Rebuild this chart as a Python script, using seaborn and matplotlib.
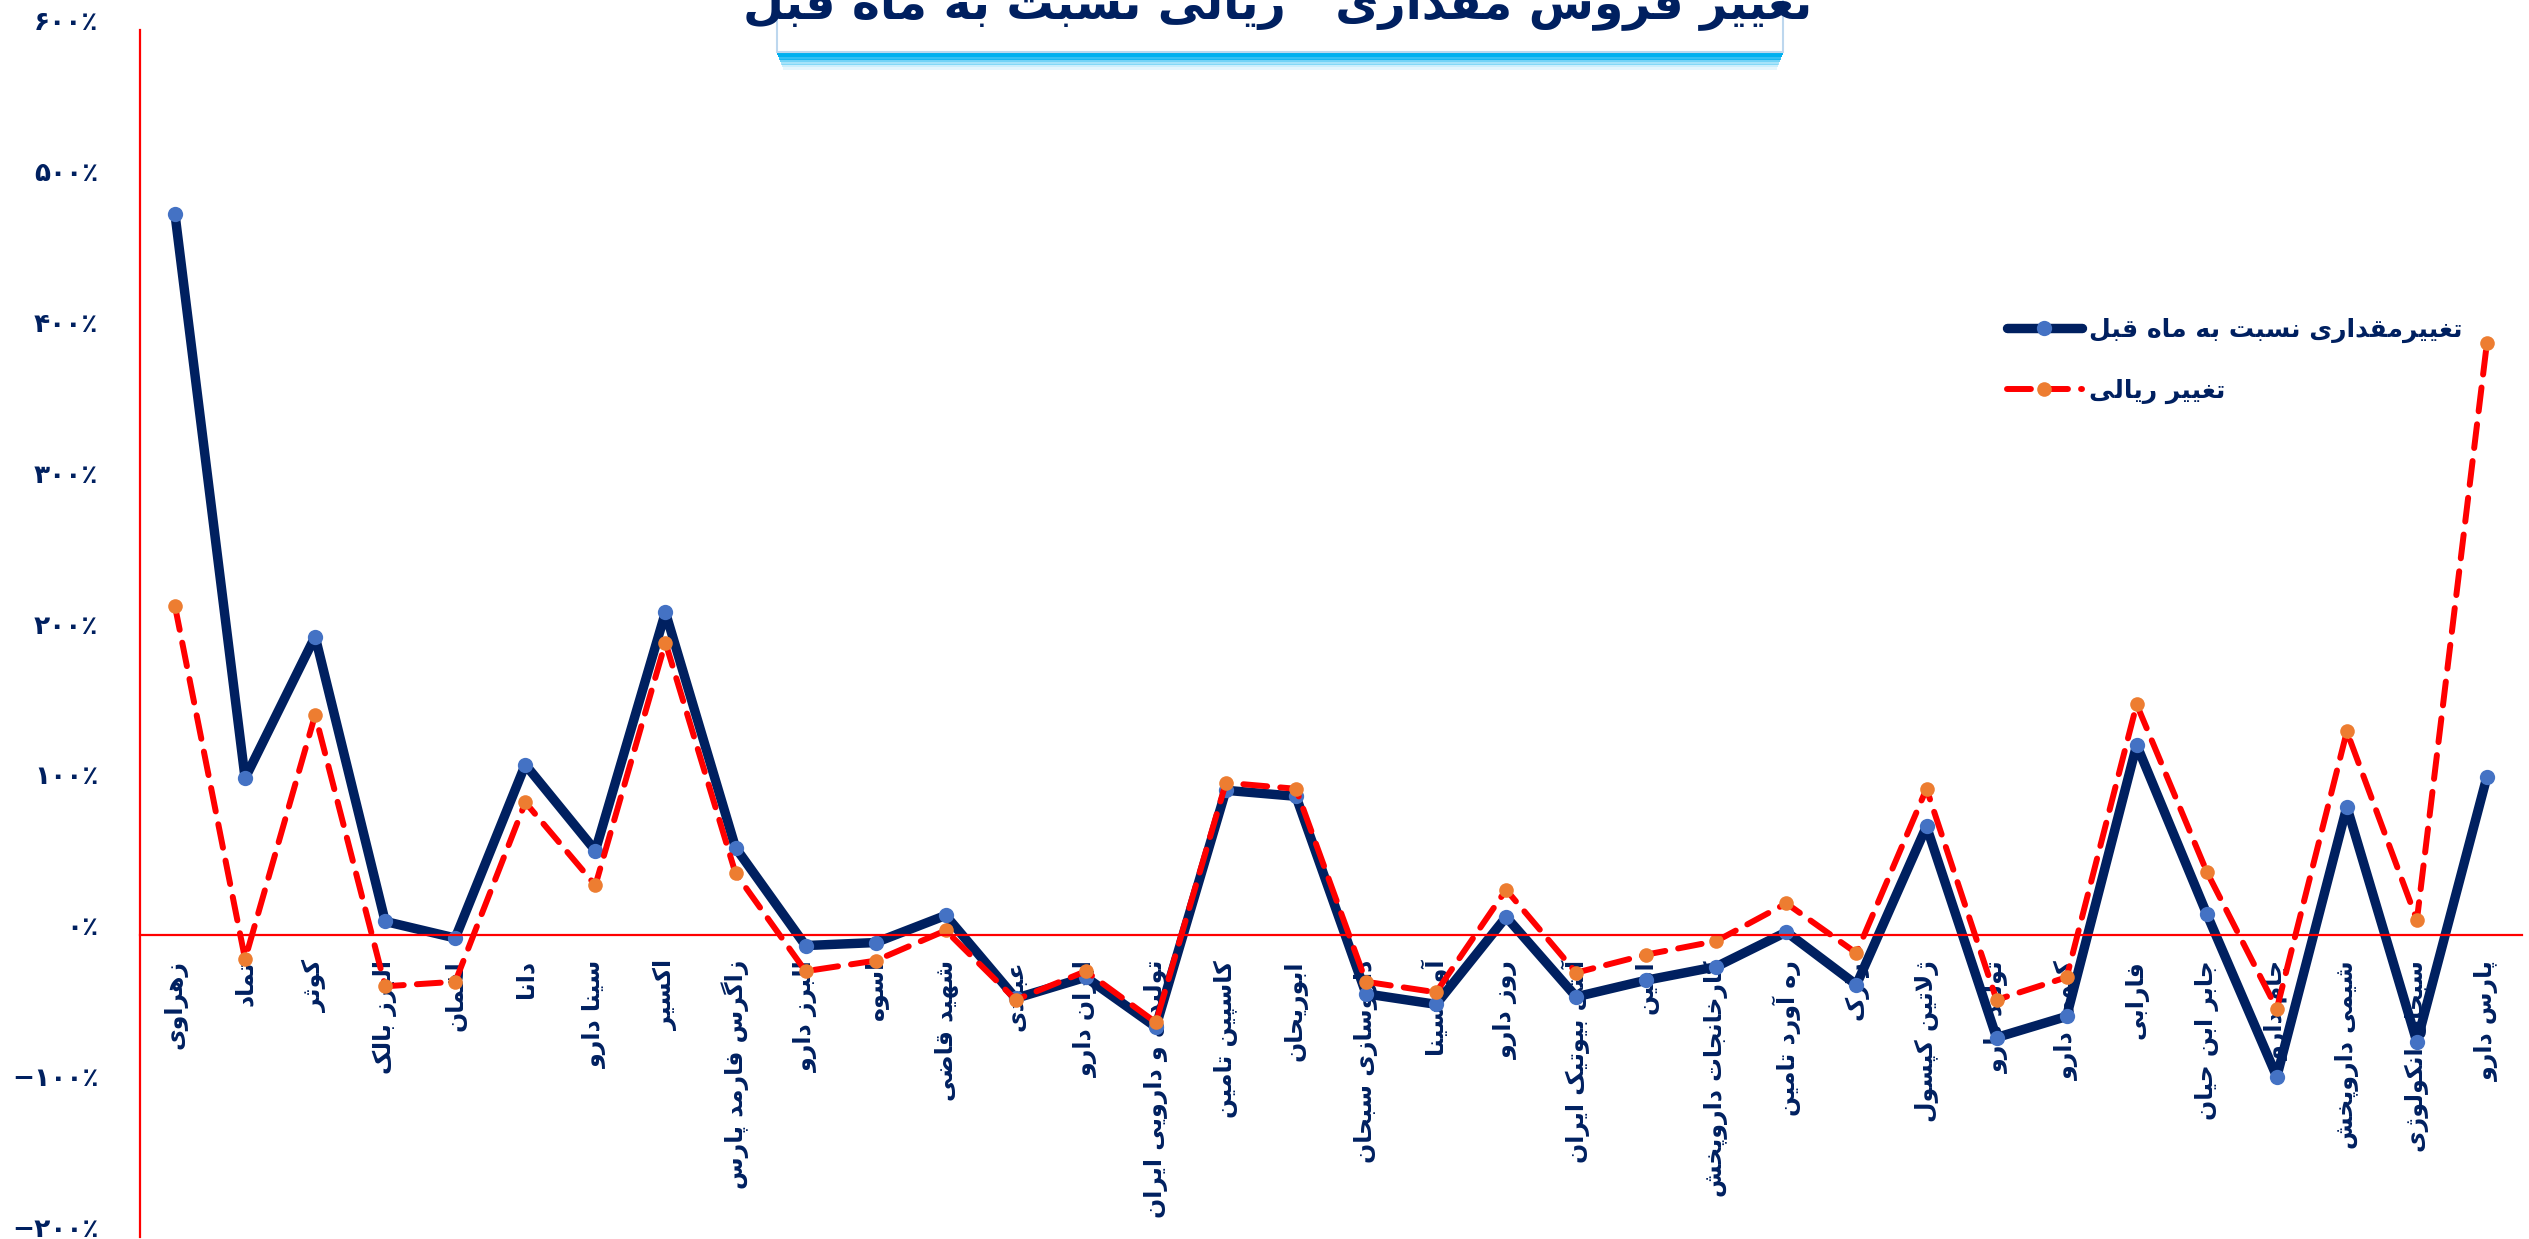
import numpy as np
import matplotlib
matplotlib.use("Agg")
import matplotlib.pyplot as plt
import matplotlib.patches as mpatches
import matplotlib.transforms as mtransforms
import seaborn as sns

# داده‌ها (درصد تغییر نسبت به ماه قبل)
companies = [
    "زهراوی", "تماد", "کوثر", "البرز بالک", "لقمان", "دانا", "سینا دارو", "اکسیر",
    "زاگرس فارمد پارس", "البرز دارو", "اسوه", "شهید قاضی", "عبیدی", "ایران دارو",
    "تولیدی و دارویی ایران", "کاسپین تامین", "ابوریحان", "داروسازی سبحان", "آوه سینا",
    "روز دارو", "آنتی بیوتیک ایران", "امین", "کارخانجات داروپخش", "ره آورد تامین",
    "رازک", "ژلاتین کپسول", "تولید دارو", "کیمی دارو", "فارابی", "جابر ابن حیان",
    "جام دارو", "شیمی داروپخش", "سبحان انکولوژی", "پارس دارو",
]
qty_change = [478, 104, 198, 9, -2, 113, 56, 214, 58, -7, -5, 13, -42, -28, -61, 96, 92,
              -39, -46, 12, -41, -30, -21, 2, -33, 72, -68, -54, 126, 14, -94, 85, -71, 105]
rial_change = [218, -16, 146, -34, -31, 88, 33, 194, 41, -24, -17, 3, -43, -24, -58, 101, 97,
               -31, -38, 30, -25, -13, -4, 21, -12, 97, -43, -28, 153, 42, -49, 135, 10, 393]
y_ticks = list(range(-200, 601, 100))

title = "تغییر فروش مقداری   ریالی نسبت به ماه قبل"
qty_label = "تغییرمقداری نسبت به ماه قبل"
rial_label = "تغییر ریالی"

NAVY = "#002060"

# شکل‌دهی ساده حروف فارسی (matplotlib خودش حروف را به هم نمی‌چسباند)
def dual(c):
    return tuple(range(c, c + 4))

def right(c):
    return (c, c + 1)

FORMS = {
    "\u0622": right(0xFE81), "\u0627": right(0xFE8D), "\u0628": dual(0xFE8F),
    "\u062A": dual(0xFE95), "\u062B": dual(0xFE99), "\u062C": dual(0xFE9D),
    "\u062D": dual(0xFEA1), "\u062E": dual(0xFEA5), "\u062F": right(0xFEA9),
    "\u0630": right(0xFEAB), "\u0631": right(0xFEAD), "\u0632": right(0xFEAF),
    "\u0633": dual(0xFEB1), "\u0634": dual(0xFEB5), "\u0635": dual(0xFEB9),
    "\u0636": dual(0xFEBD), "\u0637": dual(0xFEC1), "\u0638": dual(0xFEC5),
    "\u0639": dual(0xFEC9), "\u063A": dual(0xFECD), "\u0641": dual(0xFED1),
    "\u0642": dual(0xFED5), "\u0644": dual(0xFEDD), "\u0645": dual(0xFEE1),
    "\u0646": dual(0xFEE5), "\u0647": dual(0xFEE9), "\u0648": right(0xFEED),
    "\u06CC": dual(0xFBFC), "\u067E": dual(0xFB56), "\u0686": dual(0xFB7A),
    "\u0698": right(0xFB8A), "\u06A9": dual(0xFB8E), "\u06AF": dual(0xFB92),
}
LAM_ALEF = {"\u0627": (0xFEFB, 0xFEFC), "\u0622": (0xFEF5, 0xFEF6)}


def fa(text):
    res = []
    i = 0
    n = len(text)
    while i < n:
        ch = text[i]
        if ch not in FORMS:
            res.append(ch)
            i += 1
            continue
        prev = text[i - 1] if i > 0 else ""
        p = prev in FORMS and len(FORMS[prev]) == 4
        nxt = text[i + 1] if i + 1 < n else ""
        if ch == "\u0644" and nxt in LAM_ALEF:
            res.append(chr(LAM_ALEF[nxt][1 if p else 0]))
            i += 2
            continue
        f = FORMS[ch]
        q = nxt in FORMS and len(f) == 4
        if p and q:
            c = f[3]
        elif p:
            c = f[1]
        elif q:
            c = f[2]
        else:
            c = f[0]
        res.append(chr(c))
        i += 1
    return "".join(res)[::-1]


def fa_pct(v):
    s = str(abs(v)).translate(str.maketrans("0123456789", "۰۱۲۳۴۵۶۷۸۹"))
    return ("\u2212" if v < 0 else "") + s + "٪"


sns.set_style("white")
plt.rcParams["font.family"] = ["DejaVu Sans"]
plt.rcParams["font.weight"] = "bold"

fig = plt.figure(figsize=(25.29, 12.39), dpi=100)
ax = fig.add_axes([140 / 2529, 0.002, (2522 - 140) / 2529, 0.9734])

x = np.arange(len(companies))
sns.lineplot(x=x, y=qty_change, ax=ax, color=NAVY, lw=6.8, marker="o", markersize=11,
             markerfacecolor="#4472C4", markeredgewidth=0, label=fa(qty_label),
             solid_capstyle="round", solid_joinstyle="round")
sns.lineplot(x=x, y=rial_change, ax=ax, color="#FF0000", lw=4.3, marker="o", markersize=10.5,
             markerfacecolor="#ED7D31", markeredgewidth=0, label=fa(rial_label),
             linestyle=(0, (4, 2.2)), dash_capstyle="round")

ax.set_xlim(-0.5, len(companies) - 0.5)
ax.set_ylim(-200, 600)

for s in ["top", "right"]:
    ax.spines[s].set_visible(False)
ax.spines["left"].set_color("#FF0000")
ax.spines["left"].set_linewidth(1.6)
ax.spines["bottom"].set_position(("data", 0))
ax.spines["bottom"].set_color("#FF0000")
ax.spines["bottom"].set_linewidth(1.6)

ax.set_yticks(y_ticks)
ax.set_yticklabels([fa_pct(v) for v in y_ticks], fontsize=19, fontweight="bold", color=NAVY)
ax.tick_params(axis="y", length=0, pad=30)
lift = mtransforms.ScaledTranslation(0, 10 / 100, fig.dpi_scale_trans)
for t in ax.get_yticklabels():
    t.set_transform(t.get_transform() + lift)

ax.set_xticks(x)
ax.set_xticklabels([fa(c) for c in companies], rotation=90, ha="center", va="top",
                   fontsize=17, fontweight="bold", color=NAVY)
ax.set_xticks(np.arange(-0.5, len(companies)), minor=True)
ax.tick_params(axis="x", which="major", length=0, pad=18)
ax.tick_params(axis="x", which="minor", length=8.6, width=1.2, color="#FF0000", direction="out")

leg = ax.legend(loc="upper left", bbox_to_anchor=(1994 / 2529, 1 - 305 / 1239),
                bbox_transform=fig.transFigure, frameon=False, borderpad=0,
                handlelength=3.0, handletextpad=0.3, labelspacing=1.45,
                prop={"size": 18, "weight": "bold"})
for t in leg.get_texts():
    t.set_color(NAVY)

# کادر عنوان (بالای آن بیرون از تصویر بریده شده)
bx0, bx1 = 777 / 2529, 1783 / 2529
fig.patches.append(mpatches.Rectangle((bx0, 1 - 52 / 1239), bx1 - bx0, 70 / 1239,
                                      transform=fig.transFigure, facecolor="white",
                                      edgecolor="#BDD7EE", lw=1.5, zorder=5))
for k, a in enumerate([1.0, 1.0, 0.8, 0.55, 0.35, 0.2, 0.1]):
    fig.patches.append(mpatches.Rectangle((bx0 + k * 0.0004, 1 - (52 + 2.5 * (k + 1)) / 1239),
                                          bx1 - bx0 - k * 0.0008, 2.5 / 1239,
                                          transform=fig.transFigure, facecolor="#00B0F0",
                                          edgecolor="none", alpha=a, zorder=4))
fig.text(1278 / 2529, 1 - 18 / 1239, fa(title), ha="center", va="baseline",
         fontsize=34, fontweight="bold", color=NAVY, zorder=6)

fig.savefig("out.png", dpi=100, facecolor="white")
